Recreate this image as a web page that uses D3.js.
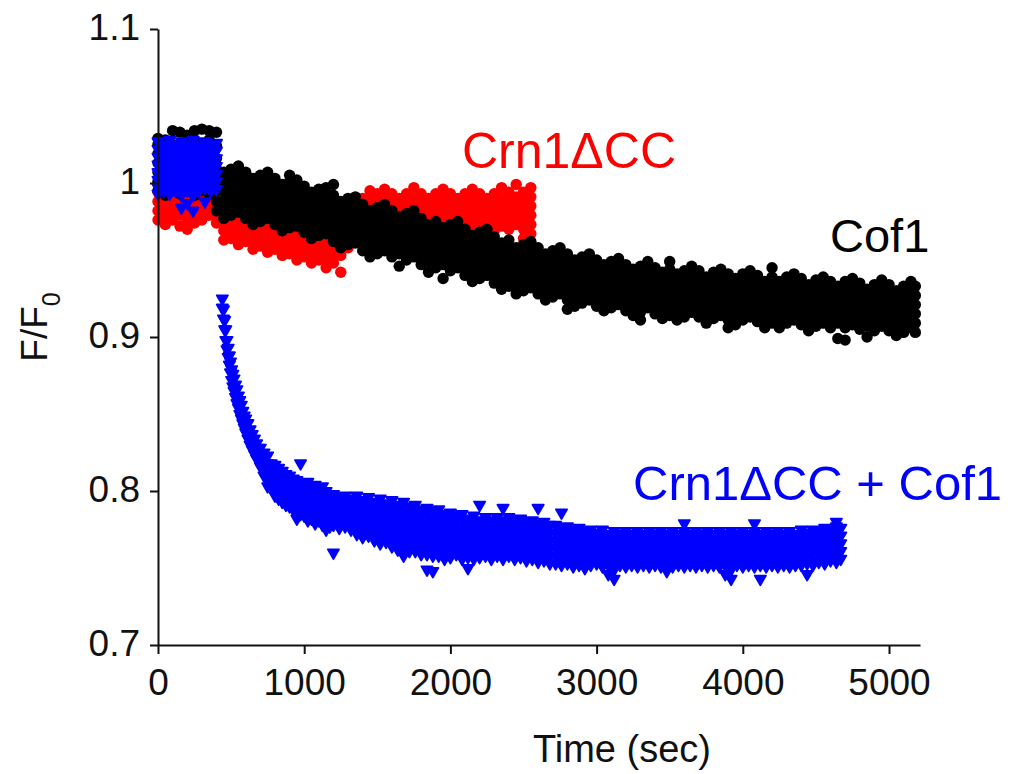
<!DOCTYPE html>
<html>
<head>
<meta charset="utf-8">
<script src="https://cdn.jsdelivr.net/npm/d3@7"></script>
<style>
  body { margin: 0; background: #fff; }
  svg { display: block; font-family: "Liberation Sans", Arial, sans-serif; }
  .axis path, .axis line { stroke: #111; stroke-width: 2; }
  .axis text { font-size: 37px; fill: #111; font-family: "Liberation Sans", Arial, sans-serif; }
</style>
</head>
<body>
<div id="chart"></div>
<script>
// each row: [time (sec), F/F0 readings at that time ...]
const cof1 = [
  [0, 1.029, 1.025, 1.019, 1.013, 1.007, 1.001, 0.995], [50, 1.028, 1.022, 1.016, 1.010, 1.004, 0.998, 0.992],
  [100, 1.034, 1.025, 1.019, 1.013, 1.007, 1.001, 0.995], [150, 1.033, 1.022, 1.016, 1.010, 1.004, 0.998, 0.993],
  [200, 1.031, 1.025, 1.019, 1.013, 1.007, 1.001, 0.995], [250, 1.034, 1.028, 1.022, 1.016, 1.010, 1.004, 0.998, 0.992],
  [300, 1.035, 1.025, 1.019, 1.013, 1.007, 1.001, 0.995], [350, 1.034, 1.028, 1.022, 1.016, 1.010, 1.004, 0.998, 0.993],
  [400, 1.033, 1.024, 1.016, 1.009, 1.002, 0.995, 0.988, 0.982],
  [450, 1.007, 1.001, 0.995, 0.989, 0.983, 0.977], [500, 1.009, 1.003, 0.997, 0.991, 0.985, 0.979],
  [550, 1.011, 1.005, 0.999, 0.993, 0.987, 0.981], [600, 1.007, 1.001, 0.995, 0.989, 0.983, 0.977],
  [650, 1.003, 0.997, 0.991, 0.985, 0.979, 0.973], [700, 1.005, 0.999, 0.993, 0.987, 0.981, 0.975],
  [750, 1.007, 1.001, 0.995, 0.989, 0.983, 0.977], [800, 1.003, 0.997, 0.991, 0.985, 0.979, 0.973],
  [850, 0.999, 0.993, 0.987, 0.981, 0.975, 0.969], [900, 1.005, 1.001, 0.995, 0.989, 0.983, 0.977, 0.971],
  [950, 1.002, 0.996, 0.990, 0.984, 0.978, 0.972], [1000, 0.998, 0.992, 0.986, 0.980, 0.974, 0.968],
  [1050, 0.994, 0.988, 0.982, 0.976, 0.970, 0.964], [1100, 0.996, 0.990, 0.984, 0.978, 0.972, 0.966],
  [1150, 0.997, 0.991, 0.985, 0.979, 0.973, 0.967], [1200, 0.999, 0.992, 0.986, 0.980, 0.974, 0.968, 0.962],
  [1250, 0.988, 0.982, 0.976, 0.970, 0.964, 0.958], [1300, 0.990, 0.984, 0.978, 0.972, 0.966, 0.960],
  [1350, 0.991, 0.985, 0.979, 0.973, 0.967, 0.961], [1400, 0.986, 0.980, 0.974, 0.968, 0.962, 0.956],
  [1450, 0.982, 0.976, 0.970, 0.964, 0.958, 0.952], [1500, 0.984, 0.978, 0.972, 0.966, 0.960, 0.954],
  [1550, 0.986, 0.980, 0.974, 0.968, 0.962, 0.956], [1600, 0.982, 0.976, 0.970, 0.964, 0.958, 0.952],
  [1650, 0.978, 0.972, 0.966, 0.960, 0.954, 0.946], [1700, 0.980, 0.974, 0.968, 0.962, 0.956, 0.950],
  [1750, 0.982, 0.976, 0.970, 0.964, 0.958, 0.952], [1800, 0.977, 0.971, 0.965, 0.959, 0.953, 0.947],
  [1850, 0.973, 0.967, 0.961, 0.955, 0.949, 0.942], [1900, 0.975, 0.969, 0.963, 0.957, 0.951, 0.945],
  [1950, 0.971, 0.965, 0.959, 0.953, 0.947, 0.938], [2000, 0.973, 0.967, 0.961, 0.955, 0.949, 0.943],
  [2050, 0.975, 0.969, 0.963, 0.957, 0.951, 0.945], [2100, 0.970, 0.964, 0.958, 0.952, 0.946, 0.940],
  [2150, 0.966, 0.960, 0.954, 0.948, 0.942, 0.936], [2200, 0.968, 0.962, 0.956, 0.950, 0.944, 0.938],
  [2250, 0.970, 0.964, 0.958, 0.952, 0.946, 0.940], [2300, 0.965, 0.959, 0.953, 0.947, 0.941, 0.935],
  [2350, 0.961, 0.955, 0.949, 0.943, 0.937, 0.931], [2400, 0.963, 0.957, 0.951, 0.945, 0.939, 0.933],
  [2450, 0.958, 0.952, 0.946, 0.940, 0.934, 0.928], [2500, 0.960, 0.954, 0.948, 0.942, 0.936, 0.930],
  [2550, 0.962, 0.956, 0.950, 0.944, 0.938, 0.932], [2600, 0.958, 0.952, 0.946, 0.940, 0.934, 0.928],
  [2650, 0.954, 0.948, 0.942, 0.936, 0.930, 0.924], [2700, 0.956, 0.950, 0.944, 0.938, 0.932, 0.926],
  [2750, 0.958, 0.952, 0.946, 0.940, 0.934, 0.928], [2800, 0.954, 0.948, 0.942, 0.936, 0.930, 0.924, 0.918],
  [2850, 0.950, 0.944, 0.938, 0.932, 0.926, 0.920], [2900, 0.952, 0.946, 0.940, 0.934, 0.928, 0.922],
  [2950, 0.954, 0.948, 0.942, 0.936, 0.930, 0.924], [3000, 0.950, 0.944, 0.938, 0.932, 0.926, 0.920],
  [3050, 0.947, 0.941, 0.935, 0.929, 0.923, 0.917], [3100, 0.949, 0.943, 0.937, 0.931, 0.925, 0.919],
  [3150, 0.951, 0.945, 0.939, 0.933, 0.927, 0.921], [3200, 0.947, 0.941, 0.935, 0.929, 0.923, 0.917],
  [3250, 0.944, 0.938, 0.932, 0.926, 0.920, 0.914], [3300, 0.946, 0.940, 0.934, 0.928, 0.922, 0.916, 0.911],
  [3350, 0.949, 0.943, 0.937, 0.931, 0.925, 0.919], [3400, 0.945, 0.939, 0.933, 0.927, 0.921, 0.915],
  [3450, 0.942, 0.936, 0.930, 0.924, 0.918, 0.912], [3500, 0.949, 0.944, 0.938, 0.932, 0.926, 0.920, 0.914],
  [3550, 0.941, 0.935, 0.929, 0.923, 0.917, 0.911], [3600, 0.943, 0.937, 0.931, 0.925, 0.919, 0.913],
  [3650, 0.946, 0.940, 0.934, 0.928, 0.922, 0.916], [3700, 0.943, 0.937, 0.931, 0.925, 0.919, 0.913],
  [3750, 0.939, 0.933, 0.927, 0.921, 0.915, 0.909], [3800, 0.942, 0.936, 0.930, 0.924, 0.918, 0.912],
  [3850, 0.944, 0.938, 0.932, 0.926, 0.920, 0.914], [3900, 0.941, 0.935, 0.929, 0.923, 0.917, 0.911, 0.906],
  [3950, 0.938, 0.932, 0.926, 0.920, 0.914, 0.908], [4000, 0.941, 0.935, 0.929, 0.923, 0.917, 0.911],
  [4050, 0.943, 0.937, 0.931, 0.925, 0.919, 0.913], [4100, 0.940, 0.934, 0.928, 0.922, 0.916, 0.910],
  [4150, 0.936, 0.930, 0.924, 0.918, 0.912, 0.906], [4200, 0.945, 0.939, 0.933, 0.927, 0.921, 0.915, 0.909],
  [4250, 0.936, 0.930, 0.924, 0.918, 0.912, 0.906], [4300, 0.939, 0.933, 0.927, 0.921, 0.915, 0.909],
  [4350, 0.941, 0.935, 0.929, 0.923, 0.917, 0.911], [4400, 0.938, 0.932, 0.926, 0.920, 0.914, 0.908],
  [4450, 0.934, 0.928, 0.922, 0.916, 0.910, 0.904], [4500, 0.937, 0.931, 0.925, 0.919, 0.913, 0.907],
  [4550, 0.939, 0.933, 0.927, 0.921, 0.915, 0.909], [4600, 0.936, 0.930, 0.924, 0.918, 0.912, 0.906],
  [4650, 0.933, 0.927, 0.921, 0.915, 0.909, 0.899], [4700, 0.936, 0.930, 0.924, 0.918, 0.912, 0.906, 0.898],
  [4750, 0.938, 0.932, 0.926, 0.920, 0.914, 0.908], [4800, 0.935, 0.929, 0.923, 0.917, 0.911, 0.905],
  [4850, 0.931, 0.925, 0.919, 0.913, 0.907, 0.900], [4900, 0.934, 0.928, 0.922, 0.916, 0.910, 0.904],
  [4950, 0.937, 0.931, 0.925, 0.919, 0.913, 0.907], [5000, 0.934, 0.928, 0.922, 0.916, 0.910, 0.904],
  [5050, 0.930, 0.924, 0.918, 0.912, 0.906, 0.901], [5100, 0.933, 0.927, 0.921, 0.915, 0.909, 0.903],
  [5150, 0.936, 0.930, 0.924, 0.918, 0.912, 0.906], [5180, 0.933, 0.927, 0.921, 0.915, 0.909, 0.903]
];

const crn1 = [
  [0, 1.000, 0.994, 0.988, 0.982, 0.976], [50, 0.997, 0.991, 0.985, 0.979, 0.973],
  [100, 1.000, 0.994, 0.988, 0.982, 0.976], [150, 0.997, 0.991, 0.985, 0.979, 0.972],
  [200, 1.000, 0.994, 0.988, 0.982, 0.976, 0.970], [250, 0.997, 0.991, 0.985, 0.979, 0.974],
  [300, 1.000, 0.994, 0.988, 0.982, 0.976], [350, 1.002, 0.997, 0.991, 0.985, 0.979],
  [400, 0.998, 0.992, 0.986, 0.980, 0.974], [450, 0.987, 0.981, 0.975, 0.969, 0.963],
  [500, 0.988, 0.982, 0.976, 0.970, 0.964], [550, 0.984, 0.978, 0.972, 0.966, 0.960],
  [600, 0.986, 0.980, 0.974, 0.968, 0.962], [650, 0.981, 0.975, 0.969, 0.963, 0.957],
  [700, 0.983, 0.977, 0.971, 0.965, 0.959], [750, 0.979, 0.973, 0.967, 0.961, 0.955],
  [800, 0.981, 0.975, 0.969, 0.963, 0.957], [850, 0.977, 0.971, 0.965, 0.959, 0.953],
  [900, 0.978, 0.972, 0.966, 0.960, 0.954], [950, 0.974, 0.968, 0.962, 0.956, 0.950],
  [1000, 0.976, 0.970, 0.964, 0.958, 0.952], [1050, 0.972, 0.966, 0.960, 0.954, 0.948],
  [1100, 0.974, 0.968, 0.962, 0.956, 0.950], [1150, 0.969, 0.963, 0.957, 0.951, 0.945],
  [1200, 0.972, 0.966, 0.960, 0.954, 0.948], [1250, 0.971, 0.965, 0.959, 0.953, 0.942],
  [1300, 0.982, 0.976, 0.970, 0.964, 0.958], [1350, 0.990, 0.984, 0.978, 0.972, 0.966],
  [1400, 0.990, 0.984, 0.978, 0.972, 0.966], [1450, 0.995, 0.989, 0.983, 0.977, 0.971],
  [1500, 0.993, 0.987, 0.981, 0.975, 0.969], [1550, 0.996, 0.990, 0.984, 0.978, 0.972],
  [1600, 0.993, 0.987, 0.981, 0.975, 0.969], [1650, 0.990, 0.984, 0.978, 0.972, 0.966],
  [1700, 0.993, 0.987, 0.981, 0.975, 0.969], [1750, 0.997, 0.990, 0.984, 0.978, 0.972],
  [1800, 0.993, 0.987, 0.981, 0.975, 0.969], [1850, 0.990, 0.984, 0.978, 0.972, 0.966],
  [1900, 0.993, 0.987, 0.981, 0.975, 0.969], [1950, 0.996, 0.990, 0.984, 0.978, 0.972],
  [2000, 0.993, 0.987, 0.981, 0.975, 0.969], [2050, 0.990, 0.984, 0.978, 0.972, 0.966],
  [2100, 0.993, 0.987, 0.981, 0.975, 0.969], [2150, 0.996, 0.990, 0.984, 0.978, 0.972],
  [2200, 0.993, 0.987, 0.981, 0.975, 0.969], [2250, 0.990, 0.984, 0.978, 0.972, 0.966],
  [2300, 0.993, 0.987, 0.981, 0.975, 0.969], [2350, 0.997, 0.990, 0.984, 0.978, 0.972],
  [2400, 0.994, 0.988, 0.982, 0.976, 0.970], [2450, 0.999, 0.991, 0.985, 0.979, 0.973],
  [2500, 0.994, 0.988, 0.982, 0.976, 0.970, 0.964], [2550, 0.997, 0.991, 0.985, 0.979, 0.973, 0.967, 0.961]
];

const crn1Cof1 = [
  [0, 1.027, 1.022, 1.017, 1.012, 1.007, 1.002, 0.997, 0.993], [40, 1.025, 1.020, 1.015, 1.010, 1.005, 1.000, 0.995],
  [80, 1.028, 1.022, 1.017, 1.012, 1.007, 1.002, 0.997, 0.993], [120, 1.025, 1.020, 1.015, 1.010, 1.005, 1.000, 0.995],
  [160, 1.027, 1.022, 1.017, 1.012, 1.007, 1.002, 0.997, 0.992, 0.984], [200, 1.025, 1.020, 1.015, 1.010, 1.005, 1.000, 0.995, 0.987],
  [240, 1.028, 1.022, 1.017, 1.012, 1.007, 1.002, 0.997, 0.992, 0.982], [280, 1.025, 1.020, 1.015, 1.010, 1.005, 1.000, 0.995],
  [320, 1.027, 1.022, 1.017, 1.012, 1.007, 1.002, 0.997, 0.988], [360, 1.025, 1.020, 1.015, 1.010, 1.005, 1.000, 0.995],
  [400, 1.026, 1.021, 1.016, 1.011, 1.006, 1.001, 0.996],
  [440, 0.925, 0.919], [448, 0.918, 0.912], [456, 0.911, 0.905], [464, 0.905, 0.898],
  [472, 0.898, 0.892], [480, 0.893, 0.887], [488, 0.888, 0.882], [496, 0.884, 0.877],
  [504, 0.879, 0.872], [512, 0.876, 0.868], [520, 0.873, 0.865], [530, 0.869, 0.861],
  [540, 0.866, 0.857], [550, 0.862, 0.854], [560, 0.859, 0.850], [570, 0.856, 0.847],
  [580, 0.852, 0.844], [590, 0.849, 0.841], [600, 0.847, 0.838], [615, 0.844, 0.834],
  [630, 0.840, 0.830], [645, 0.837, 0.827], [660, 0.834, 0.824], [675, 0.831, 0.821],
  [690, 0.828, 0.822], [700, 0.828, 0.822, 0.816], [725, 0.825, 0.820, 0.815, 0.810],
  [750, 0.823, 0.818, 0.813, 0.808, 0.803], [775, 0.818, 0.813, 0.808, 0.803],
  [800, 0.817, 0.812, 0.807, 0.802, 0.797], [825, 0.815, 0.810, 0.805, 0.800, 0.795],
  [850, 0.813, 0.808, 0.803, 0.798, 0.793], [875, 0.811, 0.806, 0.801, 0.796, 0.791],
  [900, 0.810, 0.805, 0.800, 0.795, 0.790], [925, 0.808, 0.803, 0.798, 0.793, 0.788],
  [950, 0.807, 0.802, 0.797, 0.792, 0.787, 0.782], [975, 0.818, 0.805, 0.800, 0.795, 0.790, 0.785],
  [1000, 0.804, 0.799, 0.794, 0.789, 0.784], [1025, 0.806, 0.801, 0.796, 0.791, 0.786, 0.781],
  [1050, 0.802, 0.797, 0.792, 0.787, 0.782], [1075, 0.804, 0.799, 0.794, 0.789, 0.784, 0.779],
  [1100, 0.801, 0.796, 0.791, 0.786, 0.781], [1125, 0.803, 0.798, 0.793, 0.788, 0.783, 0.778],
  [1150, 0.800, 0.795, 0.790, 0.785, 0.780, 0.775], [1175, 0.797, 0.792, 0.787, 0.782, 0.777],
  [1200, 0.798, 0.793, 0.788, 0.783, 0.778, 0.760], [1240, 0.796, 0.791, 0.786, 0.781, 0.776],
  [1280, 0.797, 0.792, 0.787, 0.782, 0.777], [1320, 0.795, 0.790, 0.785, 0.780, 0.775],
  [1360, 0.797, 0.792, 0.787, 0.782, 0.777, 0.772], [1400, 0.794, 0.789, 0.784, 0.779, 0.774, 0.770],
  [1440, 0.796, 0.791, 0.786, 0.781, 0.776, 0.771], [1480, 0.793, 0.788, 0.783, 0.778, 0.773, 0.768],
  [1520, 0.795, 0.790, 0.785, 0.780, 0.775, 0.770, 0.766], [1560, 0.792, 0.787, 0.782, 0.777, 0.772, 0.767],
  [1600, 0.794, 0.789, 0.784, 0.779, 0.774, 0.769, 0.764], [1640, 0.791, 0.786, 0.781, 0.776, 0.771, 0.766, 0.762],
  [1680, 0.793, 0.788, 0.783, 0.778, 0.773, 0.768, 0.763, 0.758], [1720, 0.790, 0.785, 0.780, 0.775, 0.770, 0.765, 0.761],
  [1760, 0.791, 0.786, 0.781, 0.776, 0.771, 0.766, 0.761], [1800, 0.788, 0.783, 0.778, 0.773, 0.768, 0.763, 0.759],
  [1840, 0.789, 0.784, 0.779, 0.774, 0.769, 0.764, 0.759, 0.749], [1880, 0.787, 0.782, 0.777, 0.772, 0.767, 0.762, 0.758, 0.748],
  [1920, 0.788, 0.783, 0.778, 0.773, 0.768, 0.763, 0.758], [1960, 0.785, 0.780, 0.775, 0.770, 0.765, 0.760, 0.756],
  [2000, 0.786, 0.781, 0.776, 0.771, 0.766, 0.761, 0.757], [2040, 0.784, 0.779, 0.774, 0.769, 0.764, 0.759],
  [2080, 0.785, 0.780, 0.775, 0.770, 0.765, 0.760, 0.756], [2120, 0.782, 0.777, 0.772, 0.767, 0.762, 0.757, 0.750],
  [2160, 0.784, 0.779, 0.774, 0.769, 0.764, 0.759, 0.756], [2200, 0.791, 0.781, 0.776, 0.771, 0.766, 0.761, 0.757],
  [2240, 0.783, 0.778, 0.773, 0.768, 0.763, 0.758], [2280, 0.781, 0.776, 0.771, 0.766, 0.761, 0.756],
  [2320, 0.783, 0.778, 0.773, 0.768, 0.763, 0.758], [2360, 0.789, 0.781, 0.776, 0.771, 0.766, 0.761, 0.756],
  [2400, 0.783, 0.778, 0.773, 0.768, 0.763, 0.758], [2440, 0.781, 0.776, 0.771, 0.766, 0.761, 0.756],
  [2480, 0.782, 0.777, 0.772, 0.767, 0.762, 0.757], [2520, 0.780, 0.775, 0.770, 0.765, 0.760, 0.755],
  [2560, 0.781, 0.776, 0.771, 0.766, 0.761, 0.756], [2600, 0.789, 0.779, 0.774, 0.769, 0.764, 0.759, 0.754],
  [2640, 0.780, 0.775, 0.770, 0.765, 0.760, 0.755], [2680, 0.778, 0.773, 0.768, 0.763, 0.758, 0.753],
  [2720, 0.778, 0.773, 0.768, 0.763, 0.758, 0.753], [2760, 0.786, 0.776, 0.771, 0.766, 0.761, 0.756, 0.752],
  [2800, 0.777, 0.772, 0.767, 0.762, 0.757, 0.753], [2840, 0.775, 0.770, 0.765, 0.760, 0.755, 0.751],
  [2880, 0.776, 0.771, 0.766, 0.761, 0.756, 0.752], [2920, 0.774, 0.769, 0.764, 0.759, 0.754, 0.750],
  [2960, 0.775, 0.770, 0.765, 0.760, 0.755, 0.752], [3000, 0.773, 0.768, 0.763, 0.758, 0.753],
  [3040, 0.775, 0.770, 0.765, 0.760, 0.755, 0.751], [3080, 0.772, 0.767, 0.762, 0.757, 0.752, 0.746],
  [3120, 0.774, 0.769, 0.764, 0.759, 0.754, 0.749, 0.743], [3160, 0.772, 0.767, 0.762, 0.757, 0.752],
  [3200, 0.774, 0.769, 0.764, 0.759, 0.754, 0.751], [3240, 0.772, 0.767, 0.762, 0.757, 0.752],
  [3280, 0.774, 0.769, 0.764, 0.759, 0.754, 0.751], [3320, 0.772, 0.767, 0.762, 0.757, 0.752],
  [3360, 0.774, 0.769, 0.764, 0.759, 0.754, 0.751], [3400, 0.772, 0.767, 0.762, 0.757, 0.752],
  [3440, 0.774, 0.769, 0.764, 0.759, 0.754, 0.751], [3480, 0.772, 0.767, 0.762, 0.757, 0.752, 0.748],
  [3520, 0.774, 0.769, 0.764, 0.759, 0.754, 0.751], [3560, 0.772, 0.767, 0.762, 0.757, 0.752],
  [3600, 0.779, 0.774, 0.769, 0.764, 0.759, 0.754, 0.751], [3640, 0.772, 0.767, 0.762, 0.757, 0.752],
  [3680, 0.774, 0.769, 0.764, 0.759, 0.754, 0.751], [3720, 0.772, 0.767, 0.762, 0.757, 0.752],
  [3760, 0.774, 0.769, 0.764, 0.759, 0.754, 0.751], [3800, 0.772, 0.767, 0.762, 0.757, 0.752],
  [3840, 0.774, 0.769, 0.764, 0.759, 0.754, 0.751], [3880, 0.772, 0.767, 0.762, 0.757, 0.752, 0.746],
  [3920, 0.774, 0.769, 0.764, 0.759, 0.754, 0.749, 0.743], [3960, 0.772, 0.767, 0.762, 0.757, 0.752],
  [4000, 0.774, 0.769, 0.764, 0.759, 0.754, 0.751], [4040, 0.772, 0.767, 0.762, 0.757, 0.752],
  [4080, 0.779, 0.774, 0.769, 0.764, 0.759, 0.754, 0.751], [4120, 0.772, 0.767, 0.762, 0.757, 0.752, 0.743],
  [4160, 0.774, 0.769, 0.764, 0.759, 0.754, 0.751], [4200, 0.772, 0.767, 0.762, 0.757, 0.752],
  [4240, 0.774, 0.769, 0.764, 0.759, 0.754, 0.751], [4280, 0.772, 0.767, 0.762, 0.757, 0.752],
  [4320, 0.774, 0.769, 0.764, 0.759, 0.754, 0.751], [4360, 0.772, 0.767, 0.762, 0.757, 0.752],
  [4400, 0.775, 0.770, 0.765, 0.760, 0.755, 0.752], [4440, 0.773, 0.768, 0.763, 0.758, 0.753, 0.746],
  [4480, 0.775, 0.770, 0.765, 0.760, 0.755, 0.752], [4520, 0.774, 0.769, 0.764, 0.759, 0.754],
  [4560, 0.776, 0.771, 0.766, 0.761, 0.756, 0.753], [4600, 0.775, 0.770, 0.765, 0.760, 0.755],
  [4640, 0.780, 0.777, 0.772, 0.767, 0.762, 0.757, 0.754], [4670, 0.776, 0.771, 0.766, 0.761, 0.756]
];

const yTicks = [0.7, 0.8, 0.9, 1, 1.1];
const xTicks = [0, 1000, 2000, 3000, 4000, 5000];

const width = 1013;
const height = 774;

const svg = d3.select('#chart')
  .append('svg')
  .attr('width', width)
  .attr('height', height);

const xScale = d3.scaleLinear().domain([0, 5212]).range([158, 920]);
const yScale = d3.scaleLinear().domain([0.7, 1.1]).range([645, 29]);

// flatten rows into points
function toPoints(rows) {
  return rows.flatMap(([t, ...ys]) => ys.map((y) => ({ t, y })));
}

// Crn1ΔCC underneath, Cof1 over it, then the mix on top
svg.append('g')
  .selectAll('circle')
  .data(toPoints(crn1))
  .join('circle')
  .attr('cx', (d) => xScale(d.t))
  .attr('cy', (d) => yScale(d.y))
  .attr('r', 5.7)
  .attr('fill', '#ff0000');

svg.append('g')
  .selectAll('circle')
  .data(toPoints(cof1))
  .join('circle')
  .attr('cx', (d) => xScale(d.t))
  .attr('cy', (d) => yScale(d.y))
  .attr('r', 5.7)
  .attr('fill', '#000');

const tri = d3.symbol().type(d3.symbolTriangle).size(54);
svg.append('g')
  .selectAll('path')
  .data(toPoints(crn1Cof1))
  .join('path')
  .attr('d', tri)
  .attr('transform', (d) => `translate(${xScale(d.t)},${yScale(d.y)}) rotate(180)`)
  .attr('fill', '#0000ff')
  .attr('stroke', '#0000ff')
  .attr('stroke-width', 1.8)
  .attr('stroke-linejoin', 'round');

// axes
svg.append('g')
  .attr('class', 'axis')
  .attr('transform', 'translate(158,0)')
  .call(d3.axisLeft(yScale).tickValues(yTicks).tickFormat((d) => String(d))
    .tickSize(8).tickSizeOuter(0).tickPadding(10))
  .selectAll('text').attr('dy', '0.28em');

svg.append('g')
  .attr('class', 'axis')
  .attr('transform', 'translate(0,645)')
  .call(d3.axisBottom(xScale).tickValues(xTicks).tickFormat(d3.format('d'))
    .tickSize(9).tickSizeOuter(0).tickPadding(15));

// axis titles
svg.append('text')
  .attr('x', 622)
  .attr('y', 762)
  .attr('text-anchor', 'middle')
  .attr('font-size', 38)
  .attr('fill', '#111')
  .text('Time (sec)');

const yTitle = svg.append('text')
  .attr('transform', 'translate(47,327) rotate(-90)')
  .attr('text-anchor', 'middle')
  .attr('font-size', 37)
  .attr('fill', '#111');
yTitle.append('tspan').text('F/F');
yTitle.append('tspan').attr('font-size', 25).attr('dy', 13).text('0');

// series labels
svg.append('text').attr('x', 462).attr('y', 168)
  .attr('font-size', 50).attr('fill', '#ff0000').text('Crn1ΔCC');
svg.append('text').attr('x', 830).attr('y', 252)
  .attr('font-size', 47).attr('fill', '#000').text('Cof1');
svg.append('text').attr('x', 633).attr('y', 500)
  .attr('font-size', 49).attr('fill', '#0000ff').text('Crn1ΔCC + Cof1');
</script>
</body>
</html>
